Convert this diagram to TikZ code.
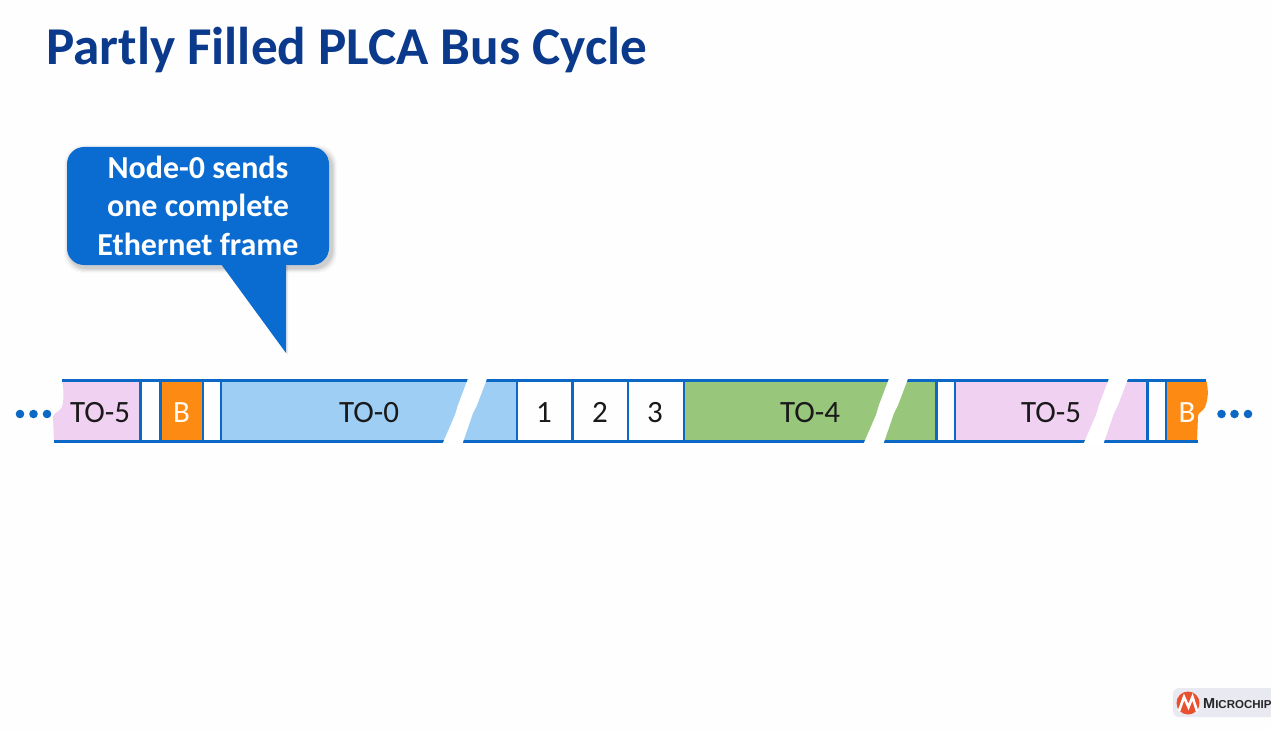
\documentclass[tikz,border=0pt]{standalone}
\usepackage{fontspec}
\setmainfont{Carlito}
\newfontfamily\logofont{Liberation Sans}
\definecolor{linecol}{HTML}{0B68C4}
\definecolor{callcol}{HTML}{0A6BD0}
\definecolor{titlecol}{HTML}{0B3A8C}
\definecolor{tozero}{HTML}{9FCEF5}
\definecolor{topink}{HTML}{F0D1F2}
\definecolor{togreen}{HTML}{98C77B}
\definecolor{beacon}{HTML}{FD8A12}
\definecolor{logotab}{HTML}{E9EAF1}
\definecolor{logored}{HTML}{E8502E}
\tikzset{
  lbl/.style={anchor=base,inner sep=0pt,font=\fontsize{31}{31}\selectfont,text=black!90},
  wlbl/.style={lbl,text=white!95!orange},
  calltext/.style={anchor=base,inner sep=0pt,font=\fontsize{32}{32}\selectfont\bfseries,text=white},
  railline/.style={draw=linecol,line width=3pt},
  divider/.style={draw=linecol,line width=2.8pt},
  dotmark/.style={fill=linecol,draw=none},
}
% white cut through the band; #1 = x of its left edge at the top line
\newcommand{\cutband}[1]{%
  \fill[white] (#1+1,376) -- (#1-10,405) -- (#1-13,415) -- (#1-26,445)
     -- (#1-6,445) -- (#1+5,413) -- (#1+9,405) -- (#1+20,376) -- cycle;}
\begin{document}
\begin{tikzpicture}[x=1pt,y=-1pt]
\useasboundingbox (0,0) rectangle (1271,730);
\fill[white!99.5!black] (0,0) rectangle (1271,730);
\node[anchor=base west,inner sep=0pt,font=\fontsize{53.2}{53.2}\selectfont\bfseries,text=titlecol] (title) at (46,65) {Partly Filled PLCA Bus Cycle};

% callout shadow: soft layers offset to the lower right
\foreach \g/\o in {5/.02,4/.03,3/.04,2/.05,1/.06}
  \fill[black,opacity=\o,rounded corners=19pt] (69-\g,150-\g) rectangle (332+\g,268+\g);
\fill[black,opacity=.08] (222,266) -- (288,355) -- (288,266) -- cycle;
% callout
\fill[callcol,rounded corners=17pt] (67,147) rectangle (329,265);
\fill[callcol] (221,264) -- (286,353) -- (286,264) -- cycle;
\node[calltext] (c1) at (198,179) {Node-0 sends};
\node[calltext] (c2) at (198,217) {one complete};
\node[calltext] (c3) at (198,255) {Ethernet frame};

% band fills
\fill[topink] (62,380) .. controls (64,390) and (64,400) .. (62,407) .. controls (60,412) and (54,412) .. (53,417) -- (54,441) -- (141,441) -- (141,380) -- cycle;
\fill[beacon] (160,380) rectangle (203,441);
\fill[tozero] (221,380) rectangle (517,441);
\fill[togreen] (684,380) rectangle (937,441);
\fill[topink] (955,380) rectangle (1148,441);
\fill[beacon] (1166,380) -- (1206,380) .. controls (1209,390) and (1208,400) .. (1205,407) .. controls (1203,412) and (1198,412) .. (1198,416) -- (1197,441) -- (1166,441) -- cycle;

% rails
\draw[railline] (62,380) -- (1206,380);
\draw[railline] (54,441) -- (1198,441);
\foreach \x in {140.5,160.5,203,221,517,572.5,628,684,936.5,955,1147.5,1166}
  \draw[divider] (\x,380) -- (\x,441);

% cuts
\cutband{468}
\cutband{889}
\cutband{1109}

% labels
\node[lbl] (a) at (100,422) {TO-5};
\node[wlbl] (b) at (181.5,422) {B};
\node[lbl] (c) at (369,422) {TO-0};
\node[lbl] (d) at (544,422) {1};
\node[lbl] (e) at (600,422) {2};
\node[lbl] (f) at (655,422) {3};
\node[lbl] (g) at (810,422) {TO-4};
\node[lbl] (h) at (1051,422) {TO-5};
\node[wlbl] (i) at (1187,422) {B};

% ellipses
\foreach \x in {20,33.5,47,1221.5,1234.5,1248}
  \fill[dotmark] (\x,414) circle (4.3pt);

% logo
\fill[logotab,rounded corners=6pt] (1173,717) -- (1173,688) -- (1290,688) -- (1290,717) -- cycle;
\fill[logored] (1188,703) circle (11.5pt);
\draw[white,line width=2.6pt,line join=miter] (1179,711) -- (1184,697) -- (1188.5,707) -- (1192.5,697) -- (1197,711);
\node[anchor=base west,inner sep=0pt,font=\logofont\bfseries,text=black!85] (logo) at (1203,708)
  {\fontsize{14.5}{14.5}\selectfont M\fontsize{11.5}{11.5}\selectfont ICROCHIP};
\end{tikzpicture}
\end{document}
